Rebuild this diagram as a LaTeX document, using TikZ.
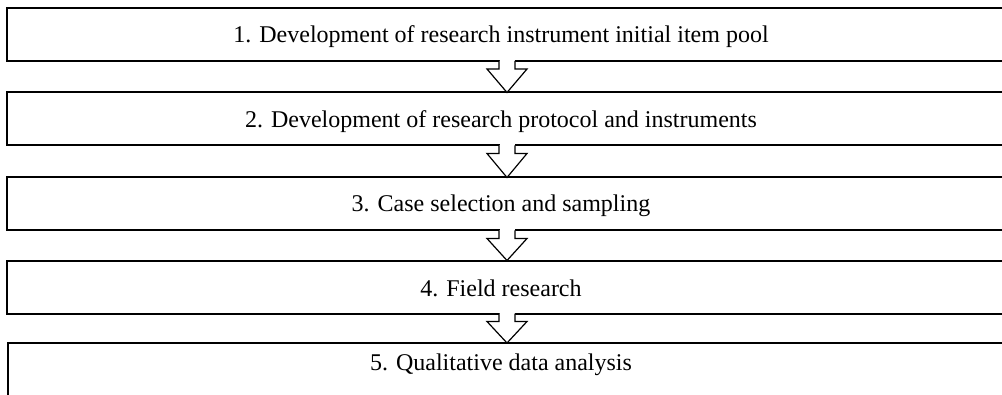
\documentclass[tikz,border=0pt]{standalone}
\usepackage{fontspec}
\setmainfont{Liberation Serif}
\usetikzlibrary{calc}
\tikzset{
  stagebox/.style={draw=black, line width=1.5pt, fill=none, rectangle, outer sep=0pt, inner sep=0pt,
    minimum width=754.5pt, minimum height=39.75pt},
  stagetext/.style={font=\fontsize{18}{21}\selectfont, inner sep=0pt, anchor=center},
  blockarrow/.style={draw=black, line width=0.9pt, fill=white, line join=miter},
}
\begin{document}
\begin{tikzpicture}[x=0.75pt,y=-0.75pt]
\useasboundingbox (0,0) rectangle (1002,395);
\clip (0,0) rectangle (1002,395);
\node[stagebox] (b1) at (510,34.5) {};
\node[stagebox] (b2) at (510,119) {};
\node[stagebox] (b3) at (510,204) {};
\node[stagebox] (b4) at (510,287) {};
\node[stagebox] (b5) at (511,369.5) {};
\node[stagetext] (t1) at (501,36.5) {1. Development of research instrument initial item pool};
\node[stagetext] (t2) at (501,121.5) {2. Development of research protocol and instruments};
\node[stagetext] (t3) at (501,205.5) {3. Case selection and sampling};
\node[stagetext] (t4) at (501,288.5) {4. Field research};
\node[stagetext] (t5) at (501,364.5) {5. Qualitative data analysis};
\coordinate (ax) at (507,0);
\foreach \a/\b in {b1/b2,b2/b3,b3/b4,b4/b5}{
  \fill[white] ($(\a.south -| ax)+(-7.5,-2)$) rectangle ($(\a.south -| ax)+(7.5,8)$);
  \draw[blockarrow] ($(\a.south -| ax)+(-8,0)$) -- ++(0,8) -- ++(-12,0) -- (\b.north -| ax)
     -- ($(\a.south -| ax)+(20,8)$) -- ++(-12,0) -- ++(0,-8);
}
\end{tikzpicture}
\end{document}
